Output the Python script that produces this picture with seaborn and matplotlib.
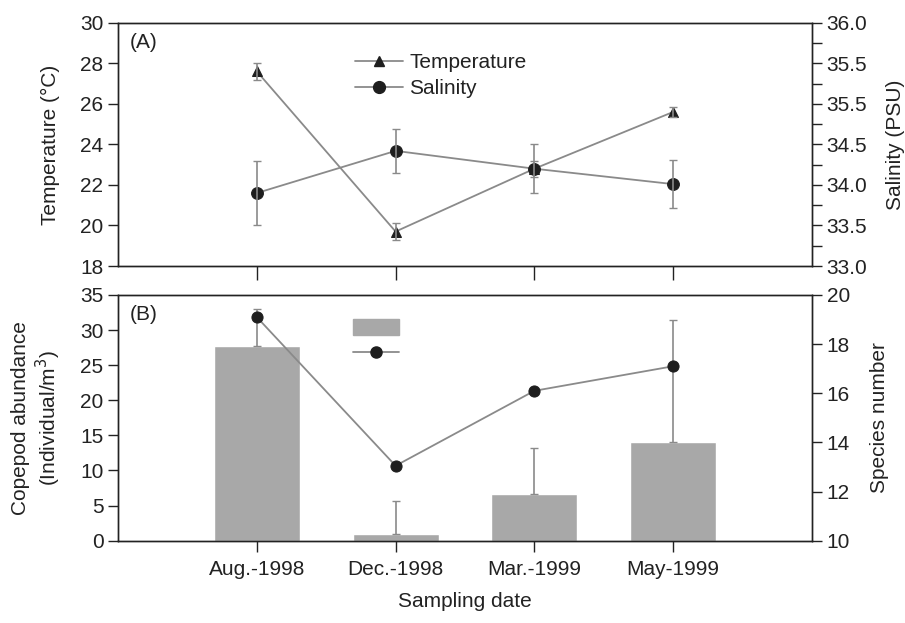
import numpy as np
import matplotlib
matplotlib.use("Agg")
import matplotlib.pyplot as plt
import seaborn as sns
from matplotlib.patches import Patch
from matplotlib.lines import Line2D

# ---- data ----
dates = ["Aug.-1998", "Dec.-1998", "Mar.-1999", "May-1999"]
temperature = [27.6, 19.7, 22.8, 25.6]
temperature_err = [0.4, 0.4, 0.4, 0.25]
salinity = [33.90, 34.42, 34.20, 34.01]
salinity_err = [0.39, 0.27, 0.30, 0.30]
abundance = [27.7, 1.0, 6.7, 14.0]
abundance_err = [5.3, 4.7, 6.5, 17.4]
species = [19.1, 13.05, 16.1, 17.1]
sal_ticks = [33.0, 33.5, 34.0, 34.5, 35.0, 35.5, 36.0]
sal_ticklabels = ["33.0", "33.5", "34.0", "34.5", "35.5", "35.5", "36.0"]

sns.set_style("ticks")
plt.rcParams["font.family"] = ["Liberation Sans", "DejaVu Sans"]
FS = 15
plt.rcParams["font.size"] = FS
TXT = "#222222"
LINE = "#8a8a8a"
MK = "#1e1e1e"
BAR = "#a8a8a8"
for k in ["text.color", "axes.labelcolor", "xtick.color", "ytick.color"]:
    plt.rcParams[k] = TXT
plt.rcParams["xtick.labelcolor"] = TXT
plt.rcParams["ytick.labelcolor"] = TXT

fig = plt.figure(figsize=(9.05, 6.23), dpi=100)
axA = fig.add_axes([0.1304, 0.573, 0.7668, 0.3905])
axB = fig.add_axes([0.1304, 0.1321, 0.7668, 0.3944])
axAr = axA.twinx()
axBr = axB.twinx()

idx = np.arange(len(dates))

# ---- Panel A ----
sns.lineplot(x=idx, y=temperature, ax=axA, color=LINE, lw=1.3, marker="^",
             markersize=7, mfc=MK, mec=MK, legend=False)
axA.errorbar(idx, temperature, yerr=temperature_err, fmt="none", ecolor=LINE,
             elinewidth=1.2, capsize=3)
sns.lineplot(x=idx, y=salinity, ax=axAr, color=LINE, lw=1.3, marker="o",
             markersize=8.5, mfc=MK, mec=MK, legend=False)
axAr.errorbar(idx, salinity, yerr=salinity_err, fmt="none", ecolor=LINE,
              elinewidth=1.2, capsize=3)

axA.set_xlim(-1, 4)
axA.set_ylim(18, 30)
axA.set_yticks(np.arange(18, 31, 2))
axA.set_xticks(idx)
axA.set_xticklabels([])
axAr.set_ylim(33, 36)
axAr.set_yticks(sal_ticks)
axAr.set_yticklabels(sal_ticklabels)
axAr.set_yticks(np.arange(33.25, 36, 0.5), minor=True)
axA.set_ylabel("Temperature (°C)")
axA.yaxis.set_label_coords(-0.084, 0.5)
axAr.set_ylabel("Salinity (PSU)")
axAr.yaxis.set_label_coords(1.106, 0.5)
axA.text(0.017, 0.958, "(A)", transform=axA.transAxes, va="top", ha="left")

hA = [Line2D([], [], color=LINE, lw=1.3, marker="^", markersize=7, mfc=MK, mec=MK),
      Line2D([], [], color=LINE, lw=1.3, marker="o", markersize=8.5, mfc=MK, mec=MK)]
axAr.legend(hA, ["Temperature", "Salinity"], loc="upper left",
            bbox_to_anchor=(0.33, 0.91), frameon=False, handlelength=2.3,
            labelspacing=0.35, handletextpad=0.3, borderaxespad=0)

# ---- Panel B ----
sns.barplot(x=idx, y=abundance, ax=axB, color=BAR, width=0.62, saturation=1,
            native_scale=True, errorbar=None)
axB.errorbar(idx, abundance, yerr=[np.zeros(len(abundance)), abundance_err],
             fmt="none", ecolor=LINE, elinewidth=1.2, capsize=3)
sns.lineplot(x=idx, y=species, ax=axBr, color=LINE, lw=1.3, marker="o",
             markersize=8, mfc=MK, mec=MK, legend=False)

axB.set_xlim(-1, 4)
axB.set_ylim(0, 35)
axB.set_yticks(np.arange(0, 36, 5))
axB.set_xticks(idx)
axB.set_xticklabels(dates)
axBr.set_ylim(10, 20)
axBr.set_yticks(np.arange(10, 21, 2))
axB.set_ylabel("Copepod abundance\n(Individual/m$^3$)")
axB.yaxis.set_label_coords(-0.079, 0.5)
axBr.set_ylabel("Species number")
axBr.yaxis.set_label_coords(1.083, 0.5)
axB.set_xlabel("Sampling date")
axB.xaxis.set_label_coords(0.5, -0.21)
axB.text(0.017, 0.958, "(B)", transform=axB.transAxes, va="top", ha="left")

hB = [Patch(facecolor=BAR, edgecolor=BAR),
      Line2D([], [], color=LINE, lw=1.3, marker="o", markersize=8, mfc=MK, mec=MK)]
axBr.legend(hB, ["", ""], loc="upper left", bbox_to_anchor=(0.327, 0.935),
            frameon=False, handlelength=2.2, handleheight=0.75,
            labelspacing=0.3, borderaxespad=0)

for ax in [axA, axAr, axB, axBr]:
    for s in ax.spines.values():
        s.set_visible(True)
        s.set_color(TXT)
        s.set_linewidth(1.0)
    ax.tick_params(axis="both", which="major", direction="out", length=7,
                   width=1.0, labelsize=FS, colors=TXT)
    ax.tick_params(axis="both", which="minor", direction="out", length=7,
                   width=1.0)
axA.tick_params(axis="x", length=10)
axB.tick_params(axis="x", length=8, pad=6)

fig.savefig("out.png", dpi=100)
